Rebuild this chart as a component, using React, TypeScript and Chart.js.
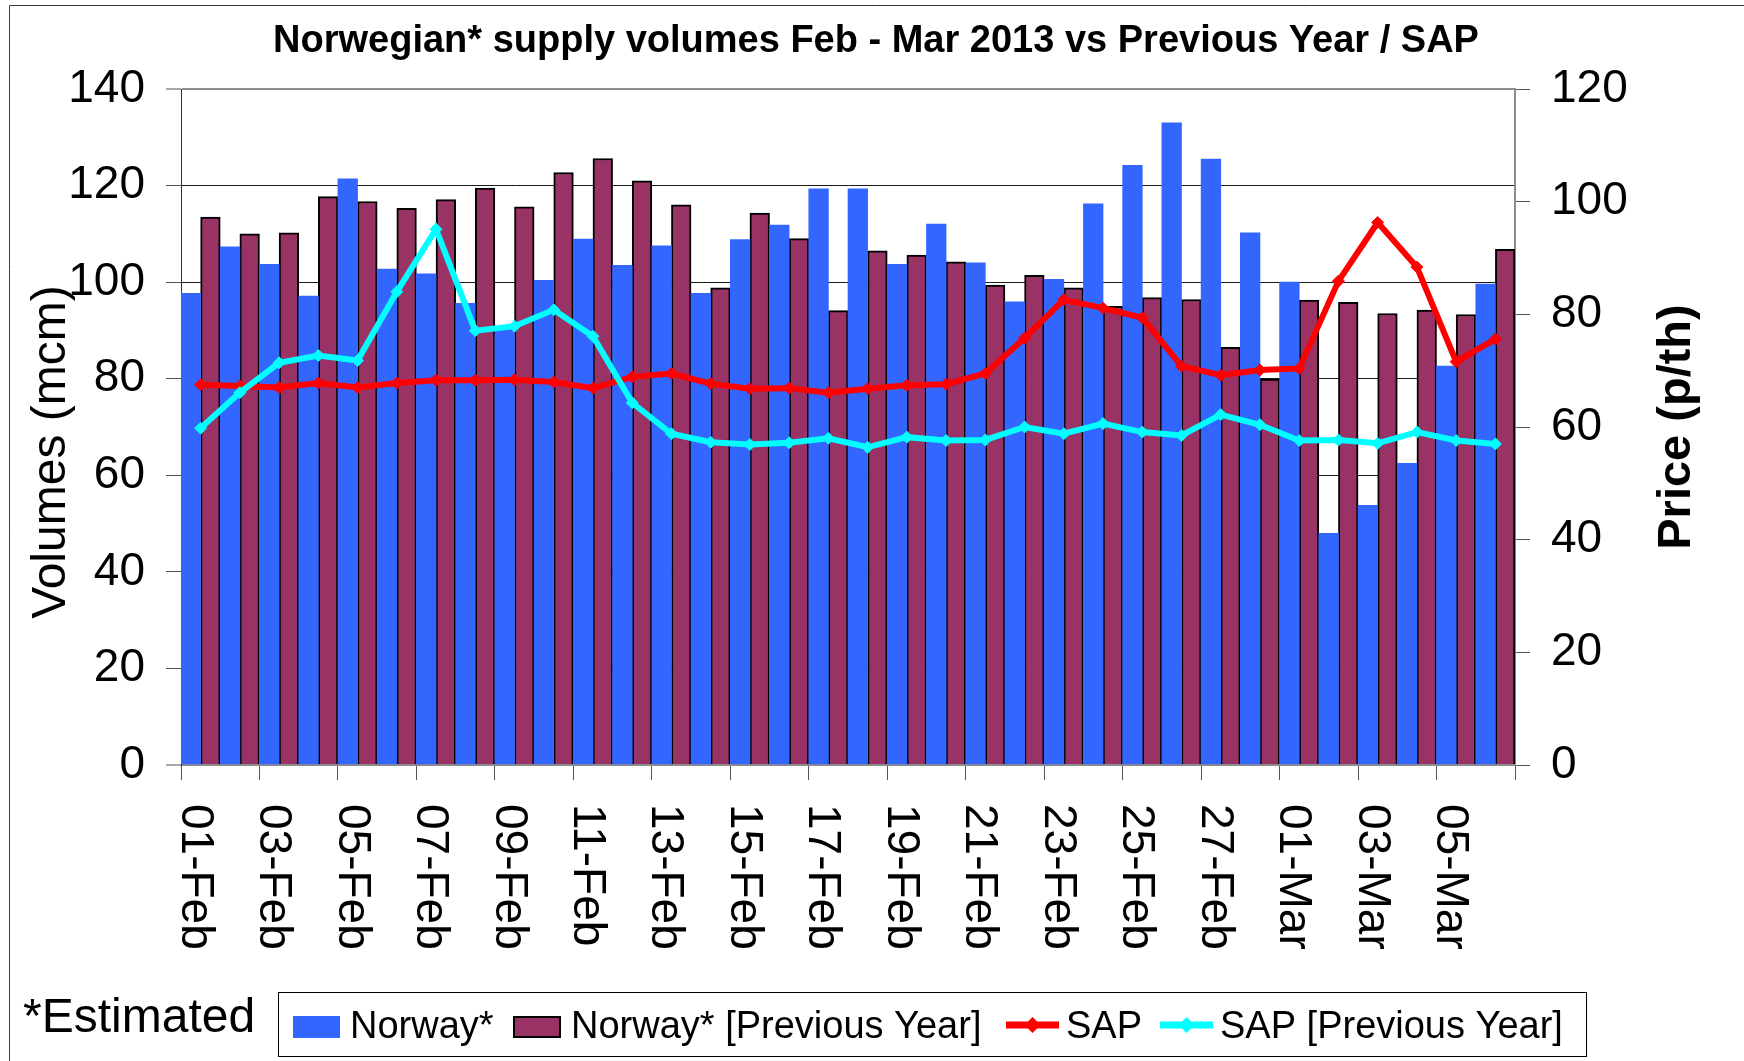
import { useEffect, useRef } from 'react';
import { Chart, registerables } from 'chart.js';

Chart.register(...registerables);

const FONT = '"Liberation Sans", Arial, Helvetica, sans-serif';

const TITLE = 'Norwegian* supply volumes Feb - Mar 2013 vs Previous Year / SAP';
const LEFT_TITLE = 'Volumes (mcm)';
const RIGHT_TITLE = 'Price (p/th)';
const NOTE = '*Estimated';

const categories = [
  '01-Feb', '02-Feb', '03-Feb', '04-Feb', '05-Feb', '06-Feb', '07-Feb', '08-Feb', '09-Feb', '10-Feb',
  '11-Feb', '12-Feb', '13-Feb', '14-Feb', '15-Feb', '16-Feb', '17-Feb', '18-Feb', '19-Feb', '20-Feb',
  '21-Feb', '22-Feb', '23-Feb', '24-Feb', '25-Feb', '26-Feb', '27-Feb', '28-Feb',
  '01-Mar', '02-Mar', '03-Mar', '04-Mar', '05-Mar', '06-Mar',
];

const norway = [
  97.7, 107.3, 103.7, 97.1, 121.4, 102.7, 101.7, 95.6, 90.5, 100.4,
  108.9, 103.5, 107.5, 97.7, 108.8, 111.8, 119.3, 119.3, 103.7, 112.0,
  104.0, 95.9, 100.6, 116.2, 124.2, 133.0, 125.5, 110.2,
  100.0, 48.0, 53.8, 62.5, 82.6, 99.6,
];

const norwayPrev = [
  113.5, 110.0, 110.2, 117.7, 116.7, 115.3, 117.1, 119.5, 115.6, 122.7,
  125.6, 121.0, 116.0, 98.8, 114.3, 109.0, 94.1, 106.5, 105.6, 104.2,
  99.4, 101.4, 98.8, 95.0, 96.8, 96.4, 86.5, 79.9,
  96.3, 95.8, 93.5, 94.2, 93.3, 106.8,
];

const sap = [
  67.5, 67.3, 67.0, 67.8, 67.0, 67.8, 68.3, 68.3, 68.4, 68.0,
  66.9, 68.9, 69.5, 67.7, 66.8, 66.9, 66.1, 66.8, 67.4, 67.6,
  69.5, 75.8, 82.6, 81.1, 79.4, 70.8, 69.2, 70.1,
  70.4, 85.9, 96.3, 88.4, 71.6, 75.6,
];

const sapPrev = [
  59.8, 66.1, 71.4, 72.7, 71.8, 84.0, 95.1, 77.1, 77.9, 80.8,
  76.1, 64.3, 58.8, 57.3, 56.9, 57.2, 58.0, 56.4, 58.2, 57.6,
  57.7, 60.0, 58.8, 60.6, 59.1, 58.5, 62.2, 60.4,
  57.6, 57.7, 57.1, 59.1, 57.6, 57.0,
];

const volumeAxis = { min: 0, max: 140, step: 20 };
const priceAxis = { min: 0, max: 120, step: 20 };

const seriesNames = ['Norway*', 'Norway* [Previous Year]', 'SAP', 'SAP [Previous Year]'];
const seriesColors = ['#3366FF', '#993366', '#FF0000', '#00FFFF'];

function drawDiamond(ctx: CanvasRenderingContext2D, x: number, y: number, r: number) {
  ctx.beginPath();
  ctx.moveTo(x, y - r);
  ctx.lineTo(x + r, y);
  ctx.lineTo(x, y + r);
  ctx.lineTo(x - r, y);
  ctx.closePath();
  ctx.fill();
}

const decorPlugin = {
  id: 'decor',
  afterDraw(chart: any) {
    const ctx: CanvasRenderingContext2D = chart.ctx;
    const xs = chart.scales.x;
    ctx.save();

    // outer frame
    ctx.strokeStyle = '#3a3a3a';
    ctx.lineWidth = 1;
    ctx.beginPath();
    ctx.moveTo(9.5, 1061);
    ctx.lineTo(9.5, 5.5);
    ctx.lineTo(1744, 5.5);
    ctx.stroke();

    ctx.fillStyle = '#000';

    // title
    ctx.font = `bold 38px ${FONT}`;
    ctx.textAlign = 'center';
    ctx.textBaseline = 'alphabetic';
    ctx.fillText(TITLE, 876, 52);

    // left axis title
    ctx.save();
    ctx.translate(65, 452);
    ctx.rotate(-Math.PI / 2);
    ctx.font = `48px ${FONT}`;
    ctx.textAlign = 'center';
    ctx.fillText(LEFT_TITLE, 0, 0);
    ctx.restore();

    // right axis title
    ctx.save();
    ctx.translate(1690, 427);
    ctx.rotate(-Math.PI / 2);
    ctx.font = `bold 47px ${FONT}`;
    ctx.textAlign = 'center';
    ctx.fillText(RIGHT_TITLE, 0, 0);
    ctx.restore();

    // x tick labels, rotated clockwise
    ctx.font = `46px ${FONT}`;
    ctx.textAlign = 'left';
    for (let i = 0; i < categories.length; i += 2) {
      const x = xs.getPixelForValue(i);
      ctx.save();
      ctx.translate(x - 19, 804);
      ctx.rotate(Math.PI / 2);
      ctx.fillText(categories[i], 0, 0);
      ctx.restore();
    }

    // note
    ctx.font = `48px ${FONT}`;
    ctx.fillText(NOTE, 23, 1032);

    // legend
    ctx.strokeStyle = '#000';
    ctx.lineWidth = 1;
    ctx.strokeRect(278.5, 992.5, 1308, 64);
    ctx.font = `38px ${FONT}`;

    ctx.fillStyle = seriesColors[0];
    ctx.fillRect(293, 1016, 47, 22);
    ctx.fillStyle = '#000';
    ctx.fillText(seriesNames[0], 350, 1038);

    ctx.fillStyle = seriesColors[1];
    ctx.fillRect(513, 1016, 48, 22);
    ctx.lineWidth = 2;
    ctx.strokeStyle = '#000';
    ctx.strokeRect(514, 1017, 46, 20);
    ctx.fillStyle = '#000';
    ctx.fillText(seriesNames[1], 571, 1038);

    const lineItems = [
      { x0: 1006, x1: 1059, tx: 1066, c: seriesColors[2], name: seriesNames[2] },
      { x0: 1160, x1: 1213, tx: 1220, c: seriesColors[3], name: seriesNames[3] },
    ];
    for (const it of lineItems) {
      ctx.strokeStyle = it.c;
      ctx.lineWidth = 7;
      ctx.beginPath();
      ctx.moveTo(it.x0, 1025);
      ctx.lineTo(it.x1, 1025);
      ctx.stroke();
      ctx.fillStyle = it.c;
      drawDiamond(ctx, (it.x0 + it.x1) / 2, 1025, 8);
      ctx.fillStyle = '#000';
      ctx.fillText(it.name, it.tx, 1038);
    }

    ctx.restore();
  },
};

export default function App() {
  const canvasRef = useRef<HTMLCanvasElement | null>(null);

  useEffect(() => {
    if (!canvasRef.current) return;
    const tickFont = { size: 46, family: FONT };
    const chart = new Chart(canvasRef.current, {
      type: 'bar',
      data: {
        labels: categories,
        datasets: [
          {
            type: 'line',
            label: seriesNames[3],
            data: sapPrev,
            yAxisID: 'y1',
            borderColor: seriesColors[3],
            backgroundColor: seriesColors[3],
            borderWidth: 6,
            pointStyle: 'rectRot',
            pointRadius: 6,
            pointBorderWidth: 1,
            pointBackgroundColor: seriesColors[3],
            pointBorderColor: seriesColors[3],
            tension: 0,
            order: 0,
          },
          {
            type: 'line',
            label: seriesNames[2],
            data: sap,
            yAxisID: 'y1',
            borderColor: seriesColors[2],
            backgroundColor: seriesColors[2],
            borderWidth: 6,
            pointStyle: 'rectRot',
            pointRadius: 6,
            pointBorderWidth: 1,
            pointBackgroundColor: seriesColors[2],
            pointBorderColor: seriesColors[2],
            tension: 0,
            order: 1,
          },
          {
            type: 'bar',
            label: seriesNames[0],
            data: norway,
            yAxisID: 'y',
            backgroundColor: seriesColors[0],
            borderWidth: 0,
            categoryPercentage: 1,
            barPercentage: 1,
            order: 2,
          },
          {
            type: 'bar',
            label: seriesNames[1],
            data: norwayPrev,
            yAxisID: 'y',
            backgroundColor: seriesColors[1],
            borderColor: '#000',
            borderWidth: 2,
            categoryPercentage: 1,
            barPercentage: 1,
            order: 3,
          },
        ] as any,
      },
      options: {
        responsive: false,
        maintainAspectRatio: false,
        animation: false,
        devicePixelRatio: 1,
        layout: { padding: { top: 89, left: 0, right: 0, bottom: 0 } },
        plugins: {
          legend: { display: false },
          title: { display: false },
          tooltip: { enabled: false },
        },
        scales: {
          x: {
            type: 'category',
            offset: true,
            grid: {
              offset: true,
              drawOnChartArea: false,
              drawTicks: true,
              tickLength: 15,
              tickWidth: 1,
              tickColor: (c: any) => (c.index === undefined || c.index % 2 === 0 ? '#555' : 'rgba(0,0,0,0)'),
            },
            border: { color: '#8c8c8c', width: 2 },
            ticks: { display: false },
            afterFit: (s: any) => {
              s.height = 296;
            },
          },
          y: {
            position: 'left',
            min: volumeAxis.min,
            max: volumeAxis.max,
            ticks: { stepSize: volumeAxis.step, font: tickFont, color: '#000', padding: 21 },
            grid: {
              color: (c: any) => (c.tick && (c.tick.value === volumeAxis.max || c.tick.value === 0) ? '#8c8c8c' : '#1a1a1a'),
              lineWidth: (c: any) => (c.tick && (c.tick.value === volumeAxis.max || c.tick.value === 0) ? 2 : 1),
              tickLength: 15,
              tickWidth: 1,
              tickColor: '#555',
            },
            border: { color: '#333', width: 1 },
            afterFit: (s: any) => {
              s.width = 181;
            },
          },
          y1: {
            position: 'right',
            min: priceAxis.min,
            max: priceAxis.max,
            ticks: { stepSize: priceAxis.step, font: tickFont, color: '#000', padding: 21 },
            grid: {
              drawOnChartArea: false,
              tickLength: 15,
              tickWidth: 1,
              tickColor: '#555',
            },
            border: { color: '#8c8c8c', width: 2 },
            afterFit: (s: any) => {
              s.width = 229;
            },
          },
        },
      } as any,
      plugins: [decorPlugin],
    });
    return () => chart.destroy();
  }, []);

  return (
    <div style={{ position: 'absolute', left: 0, top: 0, width: 1744, height: 1061, background: '#fff' }}>
      <canvas ref={canvasRef} width={1744} height={1061} style={{ display: 'block' }} />
    </div>
  );
}
